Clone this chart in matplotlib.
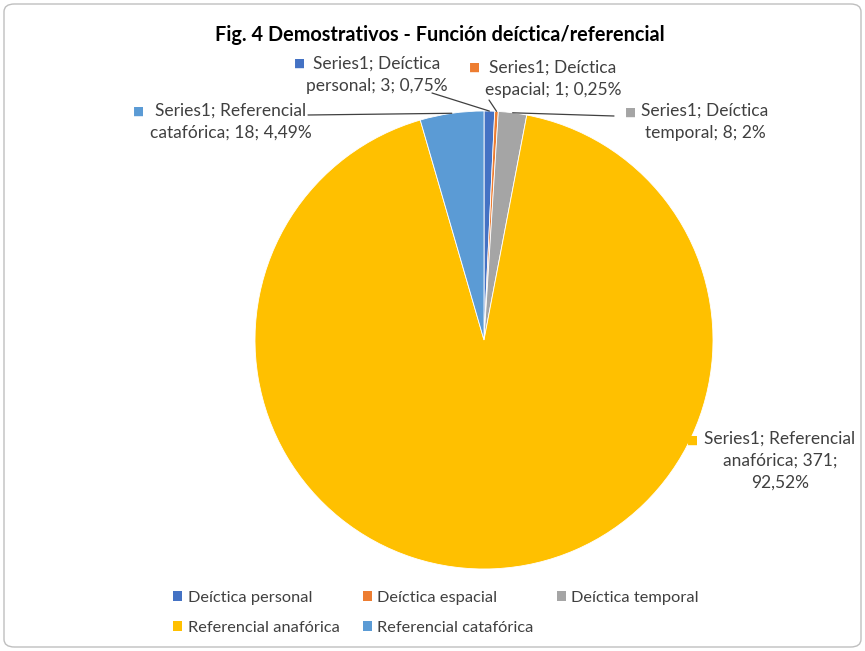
import matplotlib
matplotlib.use("Agg")
import matplotlib.pyplot as plt
from matplotlib.patches import Patch, FancyBboxPatch
import numpy as np

plt.rcParams['font.family'] = ['Lato', 'DejaVu Sans']

# datos
categorias = ['Deíctica personal', 'Deíctica espacial', 'Deíctica temporal',
              'Referencial anafórica', 'Referencial catafórica']
valores = [3, 1, 8, 371, 18]
colores = ['#4472C4', '#ED7D31', '#A5A5A5', '#FFC000', '#5B9BD5']
etiquetas = ['Series1; Deíctica\npersonal; 3; 0,75%',
             'Series1; Deíctica\nespacial; 1; 0,25%',
             'Series1; Deíctica\ntemporal; 8; 2%',
             'Series1; Referencial\nanafórica; 371;\n92,52%',
             'Series1; Referencial\ncatafórica; 18; 4,49%']

W, H = 865, 651
fig = plt.figure(figsize=(W / 100, H / 100), dpi=100)

def fx(px):
    return px / W

def fy(py):
    return 1 - py / H

# borde del área del gráfico
fig.patches.append(FancyBboxPatch((fx(4), fy(647)), 857 / W, 643 / H,
                                  boxstyle="round,pad=0,rounding_size=0.012",
                                  transform=fig.transFigure, facecolor='white',
                                  edgecolor='#BFBFBF', linewidth=1.0, zorder=-1))

fig.text(fx(440), fy(35), 'Fig. 4 Demostrativos - Función deíctica/referencial',
         ha='center', va='center', fontsize=14.3, fontweight='bold', color='#000000')

# pastel
cx, cy, r = 484, 340, 229
ax = fig.add_axes([fx(cx - r), fy(cy + r), (2 * r) / W, (2 * r) / H])
wedges, _ = ax.pie(valores, colors=colores, startangle=90, counterclock=False,
                   radius=1, wedgeprops=dict(edgecolor='white', linewidth=0.6))
ax.set_xlim(-1, 1)
ax.set_ylim(-1, 1)
ax.set_aspect('equal')
ax.axis('off')

# posiciones de las etiquetas (centro x, y superior) y del cuadrito
pos_texto = [(377, 56), (553, 60), (705, 103), (780, 431), (231, 103)]
pos_cuadro = [(300, 63), (475, 67), (631, 112), (693, 440), (139, 111)]
pos_linea = [(432, 93), (489, 100), (614, 116), None, (308, 115)]

total = sum(valores)
acum = 0
for i, v in enumerate(valores):
    mid = 90 - (acum + v / 2) / total * 360
    acum += v
    tx, ty = pos_texto[i]
    fig.text(fx(tx), fy(ty), etiquetas[i], ha='center', va='top', fontsize=12.5,
             color='#404040', linespacing=1.45)
    sx, sy = pos_cuadro[i]
    fig.text(fx(sx), fy(sy), '■', ha='center', va='center', fontsize=8.5,
             color=colores[i], family='DejaVu Sans')
    if pos_linea[i] is not None:
        ex = np.cos(np.radians(mid))
        ey = np.sin(np.radians(mid))
        lx, ly = pos_linea[i]
        ax.annotate('', xy=(ex, ey), xycoords='data',
                    xytext=(fx(lx), fy(ly)), textcoords='figure fraction',
                    arrowprops=dict(arrowstyle='-', color='#404040', lw=0.9,
                                    shrinkA=0, shrinkB=0))

# leyenda (orden por filas)
handles = [Patch(facecolor=c, edgecolor='none') for c in colores]
orden = [0, 3, 1, 4, 2]
leg = fig.legend([handles[i] for i in orden], [categorias[i] for i in orden],
                 ncol=3, loc='center', bbox_to_anchor=(fx(436), fy(613)),
                 frameon=False, fontsize=11.8, handlelength=0.55, handleheight=0.55,
                 handletextpad=0.35, columnspacing=1.4, labelspacing=1.0,
                 labelcolor='#404040')

fig.savefig('out.png', dpi=100)
